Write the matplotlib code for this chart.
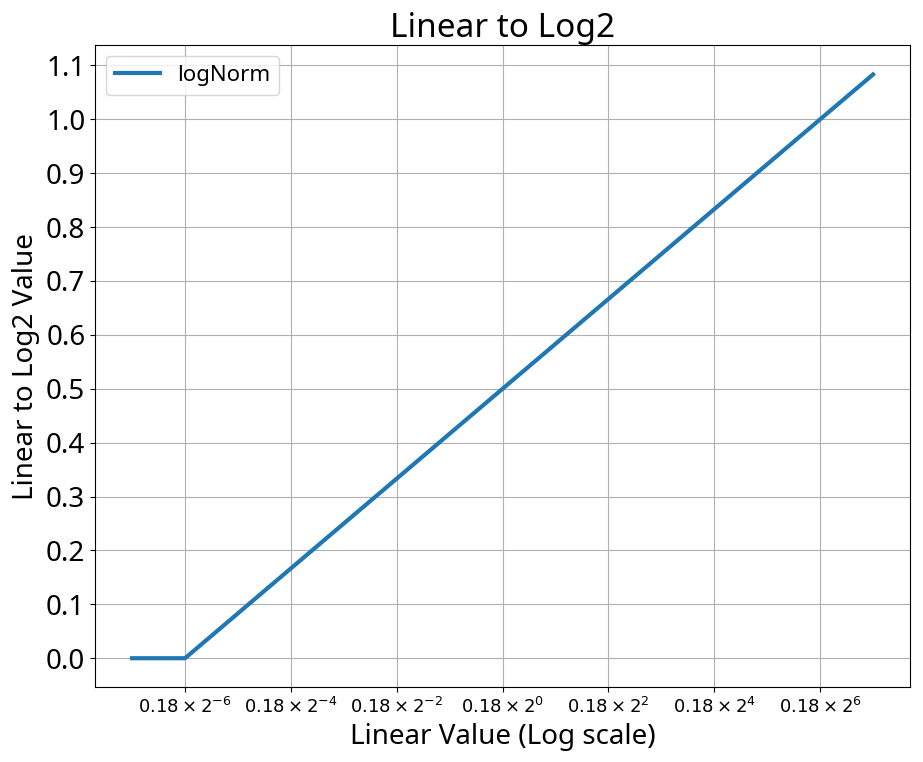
import matplotlib
matplotlib.use("Agg")
import matplotlib.pyplot as plt
import numpy as np

plt.rcParams['font.family'] = ['Noto Sans', 'DejaVu Sans']
plt.rcParams['mathtext.fontset'] = 'dejavusans'

mid_grey = 0.18
exponents = [-7, -6, 7]
values = [0.0, 0.0, 1.0833]
tick_exps = [-6, -4, -2, 0, 2, 4, 6]
yticks = [round(0.1 * i, 1) for i in range(12)]

x = [mid_grey * 2.0 ** e for e in exponents]

fig = plt.figure(figsize=(9.23, 7.62), dpi=100)
ax = fig.add_axes([0.103, 0.098, 0.883, 0.843])
ax.plot(x, values, color='#1f77b4', lw=3, label='logNorm')
ax.set_xscale('log', base=2)
ax.set_xticks([mid_grey * 2.0 ** e for e in tick_exps])
ax.set_xticklabels([r'$0.18\times2^{%d}$' % e for e in tick_exps], fontsize=13)
ax.xaxis.set_minor_locator(matplotlib.ticker.NullLocator())
ax.set_yticks(yticks)
ax.set_yticklabels([f'{v:.1f}' for v in yticks], fontsize=20)
ax.set_ylim(-0.054, 1.138)
ax.grid(True, color='#b0b0b0', lw=0.8)
ax.set_title('Linear to Log2', fontsize=24)
ax.set_xlabel('Linear Value (Log scale)', fontsize=20)
ax.set_ylabel('Linear to Log2 Value', fontsize=20)
ax.legend(loc='upper left', fontsize=16)
fig.savefig('out.png', dpi=100)
